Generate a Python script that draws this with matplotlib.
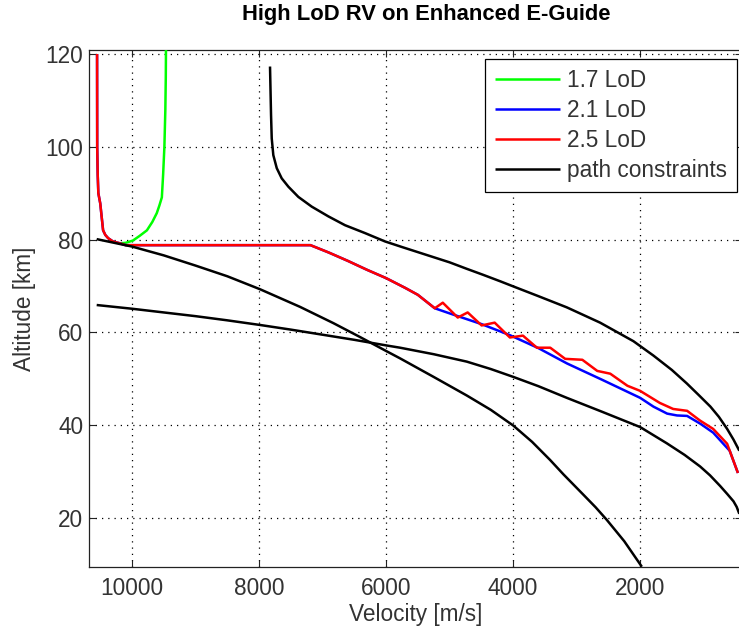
import matplotlib
matplotlib.use("Agg")
import matplotlib.pyplot as plt

plt.rcParams['font.family'] = ['Liberation Sans', 'DejaVu Sans']

# Trajectories: velocity [m/s], altitude [km]
lod17_v = [9465, 9468, 9475, 9490, 9510, 9530, 9570, 9610, 9680, 9765, 9880, 9985, 10100, 10190]
lod17_h = [121, 115, 108, 100, 94, 89.1, 87.3, 85.7, 83.8, 82.0, 80.8, 79.8, 79.3, 79.2]

lod21_v = [10550, 10548, 10540, 10530, 10500, 10455, 10420, 10375, 10300, 10190, 10100,
           7190, 6900, 6600, 6302, 6000, 5700, 5500,
           5233, 5000, 4500, 4050, 3600, 3150, 2600, 2000, 1790, 1575, 1420, 1260,
           1050, 850, 590, 460]
lod21_h = [120, 100, 94, 90, 87.8, 82.0, 81.0, 80.3, 79.6, 79.2, 78.8,
           78.8, 77.2, 75.4, 73.5, 71.7, 69.6, 68.1,
           65.2, 64.1, 61.8, 59.4, 56.6, 53.3, 49.8, 45.9, 44.0, 42.5, 42.1, 42.0,
           40.3, 38.4, 34.5, 29.7]

lod25_v = [10550, 10548, 10540, 10530, 10500, 10455, 10420, 10375, 10300, 10190, 10100,
           7190, 6900, 6600, 6302, 6000, 5700, 5500,
           5233, 5107, 4871, 4715, 4495, 4290, 4050, 3845, 3625, 3415, 3180, 2910,
           2675, 2470, 2200, 2000, 1690, 1480, 1260, 1057, 850, 630, 460]
lod25_h = [120, 100, 94, 90, 87.8, 82.0, 81.0, 80.3, 79.6, 79.2, 78.8,
           78.8, 77.2, 75.4, 73.5, 71.7, 69.6, 68.1,
           65.2, 66.4, 63.2, 64.3, 61.5, 62.1, 58.9, 59.3, 56.7, 56.7, 54.3, 54.1,
           51.7, 51.1, 48.5, 47.4, 44.8, 43.5, 43.1, 41.0, 39.2, 36.0, 29.7]

# Path constraints
heat_v = [7827, 7811, 7800, 7775, 7721, 7643, 7538, 7381, 7170, 6908, 6646, 6331,
          6016, 5750, 5500, 5250, 5000, 4729, 4470, 4200, 3995, 3600, 3155, 2630,
          2105, 1790, 1500, 1265, 1070, 893, 760, 630, 530, 438]
heat_h = [117.3, 106.9, 101.8, 98.2, 95.4, 93.2, 91.4, 89.2, 87.1, 85.0, 83.1, 81.4,
          79.6, 78.4, 77.3, 76.2, 75.1, 73.7, 72.4, 71.0, 69.9, 67.8, 65.4, 62.1,
          58.1, 55.0, 51.9, 49.0, 46.4, 44.0, 41.8, 39.2, 36.9, 34.5]

load_v = [10556, 10000, 9500, 9000, 8500, 7984, 7354, 6830, 6410, 6000, 5779, 5250,
          4729, 4350, 3995, 3700, 3417, 3207, 2892, 2700, 2525, 2250, 1973]
load_h = [80.1, 78.5, 76.6, 74.4, 72.1, 69.3, 65.5, 62.0, 59.0, 56.0, 54.4, 50.4,
          46.4, 43.3, 39.9, 36.4, 32.5, 29.4, 25.0, 22.3, 19.6, 15.0, 9.5]

eq_v = [10556, 10000, 9500, 9000, 8500, 7984, 7500, 7000, 6500, 6000, 5779, 5250,
        4729, 4350, 3995, 3600, 3155, 2600, 2000, 1580, 1300, 1055, 900, 740, 630,
        530, 480, 438]
eq_h = [65.9, 65.1, 64.3, 63.5, 62.6, 61.6, 60.6, 59.5, 58.4, 57.2, 56.7, 55.3,
        53.7, 52.1, 50.4, 48.4, 45.9, 42.9, 39.6, 36.1, 33.6, 31.1, 29.2, 26.9,
        25.2, 23.6, 22.4, 20.9]

x_ticks = [10000, 8000, 6000, 4000, 2000]
y_ticks = [20, 40, 60, 80, 100, 120]

fig = plt.figure(figsize=(7.39, 6.29), dpi=100)
ax = fig.add_axes([89 / 739, (629 - 567) / 629, (742 - 89) / 739, (567 - 50) / 629])

lw = 1.8
kw = dict(lw=lw, zorder=3, solid_joinstyle='round', solid_capstyle='butt')
ax.plot(lod17_v, lod17_h, color='#00ff00', label='1.7 LoD', **kw)
ax.plot(lod21_v, lod21_h, color='#0000ff', label='2.1 LoD', **kw)
ax.plot(lod25_v, lod25_h, color='#ff0000', label='2.5 LoD', **kw)
ax.plot(heat_v, heat_h, color='black', label='path constraints', **kw)
ax.plot(load_v, load_h, color='black', **kw)
ax.plot(eq_v, eq_h, color='black', **kw)

ax.set_xlim(10677, 396)
ax.set_ylim(9.44, 120.86)
ax.set_xticks(x_ticks)
ax.set_yticks(y_ticks)
ax.set_xticklabels([str(v) for v in x_ticks])

fs = 16.3
txt = '#333333'
ax.grid(True, color='black', linestyle=(0, (1, 4)), linewidth=0.9)
ax.tick_params(direction='in', length=5, width=0.8, top=True, right=True,
               labelsize=fs, colors='#222222', labelcolor=txt)
ax.tick_params(axis='x', pad=7)
ax.tick_params(axis='y', pad=4)
for s in ax.spines.values():
    s.set_linewidth(0.9)
    s.set_color('#222222')

ax.set_xlabel('Velocity [m/s]', fontsize=fs, color=txt, labelpad=2)
ax.set_ylabel('Altitude [km]', fontsize=fs, color=txt, labelpad=7)
fig.text(426 / 739, 1 - 20 / 629, 'High LoD RV on Enhanced E-Guide', fontsize=15.8,
         fontweight='bold', ha='center', va='baseline')

leg = ax.legend(loc='upper right', bbox_to_anchor=((737 - 89) / (742 - 89), 1 - 9 / 517),
                fontsize=fs, frameon=True, fancybox=False, framealpha=1,
                edgecolor='black', handlelength=2.85, handletextpad=0.3,
                borderpad=0.45, labelspacing=0.3, borderaxespad=0)
leg.get_frame().set_linewidth(0.9)
for t in leg.get_texts():
    t.set_color(txt)

fig.savefig('out.png', dpi=100)
